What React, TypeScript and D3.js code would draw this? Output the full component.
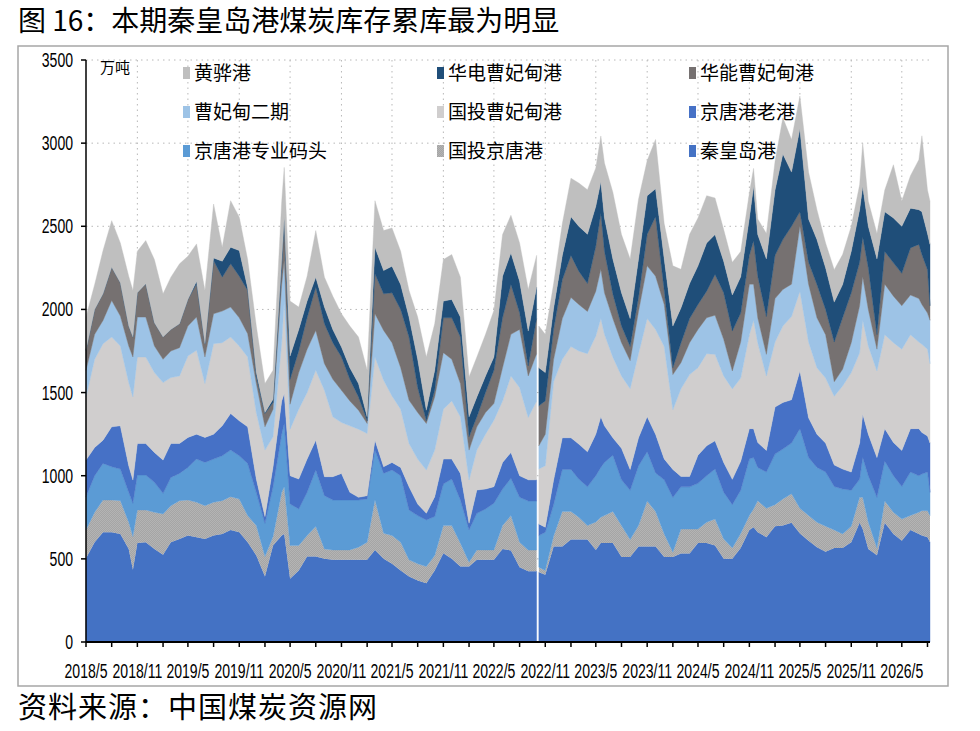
import * as d3 from 'd3';

// 港口煤炭库存（万吨），按月读取，含几个峰谷点
const dates = [
  '2018-05-01', '2018-06-01', '2018-07-01', '2018-08-01', '2018-09-01', '2018-10-01', '2018-10-16', '2018-11-01', '2018-12-01',
  '2019-01-01', '2019-02-01', '2019-03-01', '2019-04-01', '2019-05-01', '2019-06-01', '2019-07-01', '2019-08-01', '2019-09-01',
  '2019-10-01', '2019-11-01', '2019-12-01', '2020-01-01', '2020-02-01', '2020-03-01', '2020-04-01', '2020-04-10', '2020-05-01',
  '2020-06-01', '2020-07-01', '2020-08-01', '2020-09-01', '2020-10-01', '2020-11-01', '2020-12-01', '2021-01-01', '2021-02-01',
  '2021-03-01', '2021-04-01', '2021-05-01', '2021-06-01', '2021-07-01', '2021-08-01', '2021-09-01', '2021-10-01', '2021-11-01',
  '2021-12-01', '2022-01-01', '2022-02-01', '2022-03-01', '2022-04-01', '2022-05-01', '2022-06-01', '2022-07-01', '2022-08-01',
  '2022-09-01', '2022-10-01', '2022-10-05', '2022-10-09', '2022-11-01', '2022-12-01', '2023-01-01', '2023-02-01', '2023-03-01',
  '2023-04-01', '2023-05-01', '2023-05-19', '2023-06-01', '2023-07-01', '2023-08-01', '2023-09-01', '2023-10-01', '2023-11-01',
  '2023-12-01', '2024-01-01', '2024-02-01', '2024-03-01', '2024-04-01', '2024-05-01', '2024-06-01', '2024-07-01', '2024-08-01',
  '2024-09-01', '2024-10-01', '2024-11-01', '2024-11-16', '2024-12-01', '2025-01-01', '2025-02-01', '2025-03-01', '2025-04-01',
  '2025-05-01', '2025-06-01', '2025-07-01', '2025-08-01', '2025-09-01', '2025-10-01', '2025-11-01', '2025-12-01', '2025-12-12',
  '2026-01-01', '2026-02-01', '2026-03-01', '2026-04-01', '2026-05-01', '2026-06-01', '2026-07-01', '2026-07-12', '2026-08-01',
  '2026-08-10',
];

const qinhuangdao = [
  504, 600, 660, 660, 650, 560, 434, 595, 600,
  560, 524, 600, 620, 640, 630, 620, 640, 650,
  674, 660, 600, 520, 394, 580, 640, 650, 380,
  430, 514, 514, 500, 494, 494, 494, 494, 494,
  554, 500, 470, 430, 394, 370, 354, 430, 534,
  500, 454, 454, 494, 494, 494, 560, 550, 450,
  426, 426, 0, 420, 405, 574, 574, 616, 616,
  616, 553, 595, 595, 595, 511, 511, 574, 574,
  574, 511, 511, 532, 532, 595, 595, 580, 500,
  500, 565, 674, 690, 660, 630, 696, 700, 717,
  652, 609, 570, 543, 565, 565, 600, 717, 680,
  560, 522, 717, 650, 609, 674, 650, 640, 630,
  600,
];
const guotouJingtang = [
  170, 180, 194, 194, 200, 160, 200, 199, 194,
  220, 246, 220, 230, 214, 210, 200, 200, 200,
  200, 200, 160, 180, 120, 54, 260, 284, 200,
  150, 126, 180, 60, 60, 60, 60, 76, 106,
  300, 154, 170, 170, 100, 100, 100, 90, 166,
  200, 140, 26, 60, 60, 60, 140, 210, 150,
  127, 127, 0, 30, 25, 63, 211, 169, 134,
  84, 169, 155, 165, 190, 189, 105, 126, 274,
  211, 139, 29, 147, 147, 84, 125, 160, 120,
  65, 87, 87, 110, 190, 174, 130, 160, 174,
  152, 152, 150, 153, 109, 85, 96, 153, 190,
  160, 43, 131, 130, 130, 87, 130, 150, 160,
  161,
];
const jingtangZhuanye = [
  200, 220, 220, 200, 190, 180, 200, 210, 210,
  180, 124, 170, 164, 196, 260, 260, 260, 270,
  280, 260, 314, 200, 200, 300, 350, 380, 250,
  220, 260, 340, 320, 300, 300, 300, 284, 260,
  300, 360, 394, 400, 300, 290, 280, 234, 250,
  280, 260, 194, 220, 246, 280, 220, 225, 270,
  295, 295, 0, 190, 230, 190, 253, 253, 230,
  233, 278, 300, 320, 338, 275, 296, 359, 296,
  232, 325, 329, 254, 254, 275, 280, 300, 280,
  261, 261, 339, 310, 200, 218, 304, 300, 305,
  479, 348, 330, 326, 261, 270, 217, 108, 239,
  280, 305, 239, 220, 196, 261, 220, 220, 232,
  139,
];
const jingtangLaogang = [
  220, 170, 140, 240, 260, 160, 140, 190, 190,
  180, 200, 204, 180, 180, 150, 150, 150, 180,
  220, 210, 220, 80, 40, 120, 200, 180, 170,
  180, 200, 180, 114, 140, 160, 46, 16, 20,
  60, 40, 46, 50, 140, 70, 40, 120, 150,
  120, 160, 40, 140, 120, 100, 160, 155, 130,
  127, 127, 0, 70, 30, 148, 190, 190, 210,
  211, 250, 305, 220, 105, 190, 126, 169, 211,
  232, 126, 169, 63, 63, 169, 180, 170, 180,
  152, 174, 183, 173, 150, 130, 283, 280, 261,
  347, 239, 200, 174, 130, 120, 109, 218, 261,
  250, 239, 196, 200, 217, 261, 283, 250, 217,
  296,
];
const guotouCaofeidian = [
  380, 530, 580, 540, 480, 500, 500, 520, 520,
  480, 466, 396, 406, 490, 504, 324, 544, 500,
  460, 450, 420, 400, 400, 180, 350, 556, 280,
  420, 400, 420, 520, 360, 306, 400, 410, 374,
  500, 520, 400, 350, 260, 270, 260, 280, 300,
  350, 340, 260, 240, 330, 400, 370, 460, 530,
  375, 475, 0, 330, 370, 591, 472, 549, 560,
  590, 590, 590, 550, 485, 435, 485, 506, 590,
  631, 676, 359, 527, 612, 527, 554, 520, 520,
  544, 500, 565, 652, 600, 448, 391, 460, 500,
  479, 456, 400, 391, 413, 500, 598, 543, 565,
  530, 521, 565, 600, 609, 565, 521, 530, 522,
  478,
];
const caofeidianPhase2 = [
  160, 150, 140, 220, 180, 220, 240, 240, 240,
  160, 140, 160, 170, 180, 200, 160, 180, 190,
  180, 170, 140, 174, 140, 166, 350, 244, 150,
  220, 260, 240, 160, 226, 194, 150, 114, 60,
  260, 300, 320, 250, 260, 280, 280, 320, 340,
  250, 200, 180, 140, 130, 100, 200, 250, 350,
  250, 284, 0, 140, 190, 134, 245, 295, 280,
  254, 270, 296, 250, 232, 200, 169, 254, 317,
  320, 253, 211, 157, 192, 230, 216, 235, 220,
  108, 217, 304, 217, 150, 130, 261, 220, 195,
  391, 348, 300, 261, 87, 100, 180, 283, 261,
  220, 131, 304, 280, 261, 239, 261, 240, 217,
  261,
];
const huanengCaofeidian = [
  120, 150, 160, 200, 200, 120, 120, 146, 200,
  140, 134, 130, 144, 160, 200, 80, 320, 204,
  260, 250, 260, 40, 80, 40, 100, 240, 150,
  130, 190, 260, 240, 220, 200, 130, 80, 16,
  240, 220, 300, 350, 380, 150, 16, 40, 210,
  250, 280, 80, 60, 120, 200, 300, 300, 100,
  60, 211, 0, 240, 200, 182, 233, 253, 200,
  168, 270, 337, 250, 148, 100, 85, 84, 190,
  357, 84, 42, 118, 145, 150, 160, 245, 280,
  240, 174, 174, 261, 250, 227, 261, 300, 348,
  87, 131, 200, 152, 239, 310, 300, 261, 239,
  250, 87, 196, 200, 195, 283, 326, 300, 261,
  87,
];
const huadianCaofeidian = [
  0, 0, 0, 0, 0, 0, 0, 0, 0,
  0, 0, 0, 0, 0, 16, 0, 16, 96,
  100, 154, 16, 26, 6, 20, 50, 20, 140,
  130, 100, 60, 100, 80, 60, 70, 80, 24,
  160, 140, 160, 150, 120, 170, 64, 120, 100,
  110, 120, 120, 120, 100, 80, 250, 190, 190,
  210, 190, 0, 230, 170, 127, 147, 232, 270,
  296, 240, 190, 200, 211, 200, 168, 232, 232,
  169, 190, 250, 211, 211, 232, 290, 240, 190,
  217, 218, 224, 326, 250, 347, 392, 515, 326,
  500, 261, 270, 250, 240, 200, 250, 317, 304,
  250, 456, 239, 270, 283, 239, 209, 257, 218,
  369,
];
const huanghua = [
  200, 150, 260, 280, 240, 300, 280, 250, 260,
  380, 260, 314, 360, 260, 224, 320, 324, 84,
  280, 200, 170, 280, 174, 174, 350, 300, 330,
  134, 150, 280, 180, 200, 200, 250, 280, 280,
  280, 240, 230, 200, 160, 254, 320, 280, 250,
  270, 240, 240, 240, 250, 280, 250, 226, 230,
  250, 190, 0, 250, 230, 147, 190, 232, 260,
  268, 230, 275, 330, 401, 350, 359, 359, 211,
  296, 211, 362, 232, 296, 288, 284, 220, 190,
  196, 152, 150, 109, 94, 153, 173, 217, 196,
  196, 282, 180, 150, 195, 180, 150, 150, 261,
  150, 153, 131, 320, 152, 195, 300, 457, 261,
  259,
];

// 堆叠顺序：自下而上
const seriesList = [
  { name: '秦皇岛港', values: qinhuangdao },
  { name: '国投京唐港', values: guotouJingtang },
  { name: '京唐港专业码头', values: jingtangZhuanye },
  { name: '京唐港老港', values: jingtangLaogang },
  { name: '国投曹妃甸港', values: guotouCaofeidian },
  { name: '曹妃甸二期', values: caofeidianPhase2 },
  { name: '华能曹妃甸港', values: huanengCaofeidian },
  { name: '华电曹妃甸港', values: huadianCaofeidian },
  { name: '黄骅港', values: huanghua },
];

const yTicks = [0, 500, 1000, 1500, 2000, 2500, 3000, 3500];

const fills: Record<string, string> = {
  秦皇岛港: '#4472C4',
  国投京唐港: 'url(#grey-dots)',
  京唐港专业码头: '#5B9BD5',
  京唐港老港: '#4671C6',
  国投曹妃甸港: '#D0CECE',
  曹妃甸二期: '#9DC3E6',
  华能曹妃甸港: '#767171',
  华电曹妃甸港: '#1F4E79',
  黄骅港: '#BFBFBF',
};

const CJK = "'Noto Sans CJK SC', 'Noto Sans', sans-serif";
const NUM = "'Liberation Sans', Arial, sans-serif";

export default function App() {
  const width = 980;
  const height = 731;
  const plot = { left: 86, right: 930, top: 60, bottom: 642 };

  const parse = d3.timeParse('%Y-%m-%d');
  const keys = seriesList.map((s) => s.name);
  const rows = dates.map((d, i) => {
    const row: any = { date: parse(d) };
    let total = 0;
    seriesList.forEach((s) => {
      row[s.name] = s.values[i];
      total += s.values[i];
    });
    row.total = total;
    return row;
  });

  const stacked = d3.stack<any>().keys(keys)(rows);

  const x = d3
    .scaleTime()
    .domain([parse('2018-05-01') as Date, parse('2026-08-10') as Date])
    .range([plot.left, plot.right]);
  const y = d3.scaleLinear().domain([0, 3500]).range([plot.bottom, plot.top]);

  const area = d3
    .area<any>()
    .defined((d) => d.data.total > 0)
    .x((d) => x(d.data.date))
    .y0((d) => y(d[0]))
    .y1((d) => y(d[1]));

  const xTicks = d3.timeMonth.range(parse('2018-05-01') as Date, parse('2026-08-11') as Date, 3);
  const fmt = d3.timeFormat('%Y/%-m');

  const legendItems = [...keys].reverse();
  const legendCols = [183, 437, 689];
  const legendRows = [73, 112, 151];

  return (
    <svg
      width={width}
      height={height}
      style={{ position: 'absolute', left: 0, top: 0, background: '#fff' }}
    >
      <defs>
        <pattern id="grey-dots" width="2" height="2" patternUnits="userSpaceOnUse">
          <rect width="2" height="2" fill="#A5A5A5" />
          <rect width="1" height="1" fill="#B4B4B4" />
          <rect x="1" y="1" width="1" height="1" fill="#B4B4B4" />
        </pattern>
      </defs>

      <text x={18} y={31} fontSize={28} fontFamily={CJK} fill="#000">
        图 16：本期秦皇岛港煤炭库存累库最为明显
      </text>

      <rect x={18} y={46} width={930} height={640} fill="#fff" stroke="#a6a6a6" strokeWidth={1.5} />

      {/* 网格 */}
      {yTicks.slice(1).map((t) => (
        <line
          key={'gy' + t}
          x1={plot.left}
          x2={plot.right}
          y1={y(t)}
          y2={y(t)}
          stroke="#b8b8b8"
          strokeWidth={1}
          strokeDasharray="1.5,4"
        />
      ))}
      {xTicks
        .filter((_, i) => i % 2 === 0 && i > 0)
        .map((t) => (
          <line
            key={'gx' + t.getTime()}
            x1={x(t)}
            x2={x(t)}
            y1={plot.top}
            y2={plot.bottom}
            stroke="#b8b8b8"
            strokeWidth={1}
            strokeDasharray="1.5,4"
          />
        ))}

      {/* 堆叠面积 */}
      {stacked.map((layer) => (
        <path
          key={layer.key}
          d={area(layer) || ''}
          fill={fills[layer.key]}
          stroke={layer.key === '国投京唐港' ? 'none' : fills[layer.key]}
          strokeWidth={0.4}
        />
      ))}

      {/* Y 轴 */}
      <line x1={plot.left} x2={plot.left} y1={plot.top} y2={plot.bottom} stroke="#000" strokeWidth={1.5} />
      {yTicks.map((t) => (
        <g key={'yt' + t}>
          <line x1={plot.left - 5} x2={plot.left} y1={y(t)} y2={y(t)} stroke="#000" strokeWidth={1.5} />
          <text
            transform={`translate(73,${y(t) + 7}) scale(0.72,1)`}
            textAnchor="end"
            fontSize={19.5}
            fontFamily={NUM}
            fill="#000"
          >
            {t}
          </text>
        </g>
      ))}
      <text x={100} y={73} fontSize={15} fontFamily={CJK} fill="#000">
        万吨
      </text>

      {/* X 轴 */}
      <line x1={plot.left} x2={plot.right} y1={plot.bottom} y2={plot.bottom} stroke="#000" strokeWidth={2} />
      {xTicks.map((t, i) => (
        <g key={'xt' + t.getTime()}>
          <line x1={x(t)} x2={x(t)} y1={plot.bottom} y2={plot.bottom + 5} stroke="#000" strokeWidth={1.5} />
          {i % 2 === 0 && (
            <text
              transform={`translate(${x(t)},678) scale(0.72,1)`}
              textAnchor="middle"
              fontSize={19.5}
              fontFamily={NUM}
              fill="#000"
            >
              {fmt(t)}
            </text>
          )}
        </g>
      ))}

      {/* 图例 */}
      {legendItems.map((name, i) => {
        const lx = legendCols[i % 3];
        const ly = legendRows[Math.floor(i / 3)];
        return (
          <g key={'lg' + name}>
            <rect x={lx} y={ly - 6} width={7} height={12} fill={fills[name]} />
            <text x={lx + 11} y={ly + 7} fontSize={19} fontFamily={CJK} fill="#000">
              {name}
            </text>
          </g>
        );
      })}

      <text x={18} y={718} fontSize={29} fontFamily={CJK} fill="#000" letterSpacing={1}>
        资料来源：中国煤炭资源网
      </text>
    </svg>
  );
}
